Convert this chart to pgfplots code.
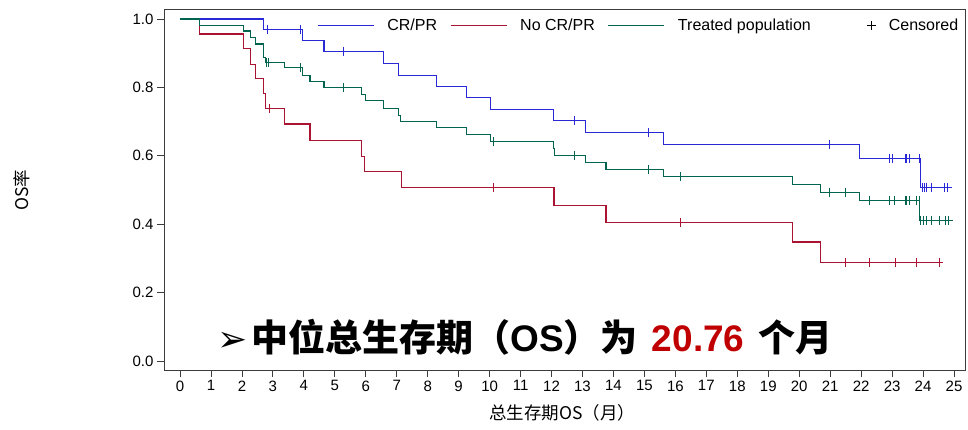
\documentclass[border=0pt]{standalone}
\usepackage{pgfplots}
\pgfplotsset{compat=1.18}
\usepackage{fontspec}
\setmainfont{Liberation Sans}
\newfontfamily\cjk{Noto Sans CJK SC}
\newfontfamily\symfont{DejaVu Sans}

\definecolor{crpr}{RGB}{40,40,215}
\definecolor{nocrpr}{RGB}{170,20,50}
\definecolor{treated}{RGB}{0,100,80}
\definecolor{hilite}{RGB}{192,0,0}
\definecolor{frame}{RGB}{60,60,60}

\pgfplotsset{
  censorkey/.style={legend image code/.code={\draw[##1] plot coordinates {(0pt,0pt)};}},
}

\begin{document}
\begin{tikzpicture}
\useasboundingbox (0,0) rectangle (968pt,429pt);
\begin{axis}[
  at={(164pt,59pt)}, anchor=south west,
  scale only axis, width=801pt, height=360pt,
  xmin=-0.517, xmax=25.355,
  ymin=-0.0263, ymax=1.0263,
  xtick={0,1,...,25},
  ytick={0,0.2,0.4,0.6,0.8,1.0},
  yticklabel style={/pgf/number format/.cd, fixed, fixed zerofill, precision=1},
  /pgf/number format/assume math mode=true,
  tick align=outside,
  xtick pos=bottom, ytick pos=left,
  major tick length=7pt,
  every tick/.style={frame, line width=0.8pt},
  axis line style={frame, line width=1pt},
  tick label style={font=\fontsize{15}{15}\selectfont, text=black},
  xlabel={\cjk 总生存期OS（月）},
  ylabel={\cjk OS率},
  label style={font=\fontsize{17.5}{17.5}\selectfont},
  xlabel style={at={(axis description cs:0.497,-0.119)}, anchor=center},
  ylabel style={at={(axis description cs:-0.177,0.5)}, anchor=center},
  legend columns=4,
  legend style={
    at={(axis description cs:0.1873,0.982)}, anchor=north west,
    draw=none, fill=none,
    font=\fontsize{16}{16}\selectfont,
    nodes={inner sep=0pt},
    column sep=13pt,
  },
  legend image code/.code={\draw[#1] (0pt,0pt) -- (56pt,0pt);},
  clip=false,
]

% CR/PR responders
\addplot[crpr, line width=1.1pt, const plot] coordinates {
  (0,1.0) (2.69,0.970) (3.96,0.938) (4.65,0.905) (6.57,0.870) (7.07,0.836)
  (8.28,0.803) (9.26,0.770) (10.02,0.736) (12.06,0.704) (13.09,0.669)
  (15.61,0.632) (21.96,0.592) (23.92,0.507) (24.94,0.507)
};
\addlegendentry{CR/PR}

% non-responders
\addplot[nocrpr, line width=1.1pt, const plot] coordinates {
  (0,1.0) (0.62,0.956) (2.05,0.914) (2.28,0.867) (2.44,0.825) (2.69,0.783)
  (2.75,0.739) (3.38,0.693) (4.20,0.645) (5.87,0.599) (5.95,0.554)
  (7.14,0.507) (12.08,0.456) (13.76,0.405) (19.78,0.348) (20.69,0.289)
  (24.66,0.289)
};
\addlegendentry{No CR/PR}

% whole treated population
\addplot[treated, line width=1.1pt, const plot] coordinates {
  (0,1.0) (0.62,0.980) (2.05,0.965) (2.28,0.946) (2.44,0.927) (2.69,0.887)
  (2.75,0.873) (3.38,0.858) (3.96,0.836) (4.20,0.817) (4.65,0.799)
  (5.87,0.780) (5.98,0.763) (6.57,0.739) (7.07,0.719) (7.13,0.700)
  (8.28,0.682) (9.26,0.663) (10.02,0.641) (12.06,0.622) (12.09,0.602)
  (13.09,0.580) (13.76,0.560) (15.61,0.539) (19.78,0.517) (20.69,0.493)
  (21.96,0.469) (23.88,0.411) (24.96,0.411)
};
\addlegendentry{Treated population\hspace{43pt}\mbox{}}

\addlegendimage{black, line width=0.9pt, mark=+, mark size=4.5pt, censorkey}
\addlegendentry{Censored}

% censored observations
\addplot[crpr, only marks, mark=|, mark size=4.5pt, line width=0.9pt, forget plot] coordinates {
  (2.82,0.970) (3.90,0.970) (5.28,0.905) (12.73,0.704) (15.13,0.669)
  (20.99,0.632) (22.91,0.592) (23.02,0.592) (23.42,0.592) (23.47,0.592)
  (23.56,0.592) (23.87,0.592) (23.97,0.507) (24.05,0.507) (24.12,0.507)
  (24.28,0.507) (24.68,0.507) (24.80,0.507)
};
\addplot[nocrpr, only marks, mark=|, mark size=4.5pt, line width=0.9pt, forget plot] coordinates {
  (2.88,0.739) (10.12,0.507) (16.15,0.405) (21.48,0.289) (22.27,0.289)
  (23.12,0.289) (23.79,0.289) (24.52,0.289)
};
\addplot[treated, only marks, mark=|, mark size=4.5pt, line width=0.9pt, forget plot] coordinates {
  (2.80,0.873) (2.87,0.873) (3.90,0.858) (5.28,0.799) (10.12,0.641)
  (12.73,0.602) (15.13,0.560) (16.15,0.539) (20.97,0.493) (21.48,0.493)
  (22.27,0.469) (22.93,0.469) (23.07,0.469) (23.42,0.469) (23.47,0.469)
  (23.55,0.469) (23.79,0.469) (23.87,0.469) (23.93,0.411) (24.01,0.411)
  (24.12,0.411) (24.28,0.411) (24.52,0.411) (24.71,0.411) (24.82,0.411)
};

% median overall survival callout
\node[anchor=base west, inner sep=0pt, font=\fontsize{37}{37}\selectfont]
  at (axis cs:1.2,0.029)
  {{\symfont\fontsize{36}{36}\selectfont ➢}\hspace{4pt}{\cjk\bfseries 中位总生存期（{\rmfamily\bfseries OS}）为\hspace{14pt}\textcolor{hilite}{\rmfamily\bfseries 20.76}\hspace{14pt}个月}};
\end{axis}
\end{tikzpicture}
\end{document}
